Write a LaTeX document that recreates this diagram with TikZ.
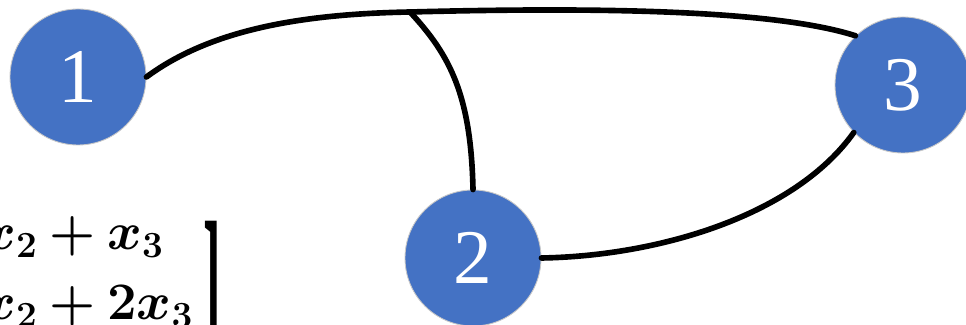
\documentclass[tikz,border=0pt]{standalone}
\usepackage{fix-cm}
\usepackage{amsmath}
\usepackage{bm}
\usepackage{graphicx}
\usepackage{fontspec}
\newfontfamily\digitfont{Liberation Serif}
\usepackage{xcolor}
\usepackage{tikz}

\definecolor{nodeblue}{HTML}{4472C4}
\definecolor{rimgray}{HTML}{C8C8C8}

\begin{document}
\begin{tikzpicture}[font=\digitfont\fontsize{44}{44}\selectfont]
                \tikzstyle{vertex}=[circle,draw=rimgray,line width=0.5pt,fill=nodeblue,text=white,minimum size=2.72cm,inner sep=0]
                \tikzstyle{link}=[line width=3.2pt,line cap=round]
                \tikzstyle{row}=[anchor=base west,inner sep=0,font=\fontsize{30}{36}\selectfont]
                \clip (0,0) rectangle (19.32,6.5);
                \node(v1)[vertex] at (1.56,4.96){1};
                \node(v2)[vertex] at (9.46,1.34){2};
                \node(v3)[vertex] at (18.06,4.80){3};
                \coordinate(fork) at (8.2,6.26);
                \draw[link] (v1.east) .. controls (4.2,5.9) and (6,6.22) .. (fork)
                                      .. controls (12,6.36) and (15.5,6.3) .. (v3.134);
                \draw[link] (fork) .. controls (9.0,5.4) and (9.42,4.6) .. (v2.north);
                \draw[link] (v3.224) .. controls (15.9,2.2) and (13.2,1.38) .. (v2.east);
                % rows of the system, only the right end shows
                \node(row1)[row] at (-0.38,1.5){$\bm{x_2+x_3}$};
                \node(row2)[row] at (-0.38,0.1){$\bm{x_2+2x_3}$};
                \node(brk)[anchor=north east,inner sep=0,font=\digitfont\fontsize{30}{36}\selectfont] at (4.43,2.08)
                {\scalebox{1}[4]{\bfseries ]}};
            \end{tikzpicture}
\end{document}
